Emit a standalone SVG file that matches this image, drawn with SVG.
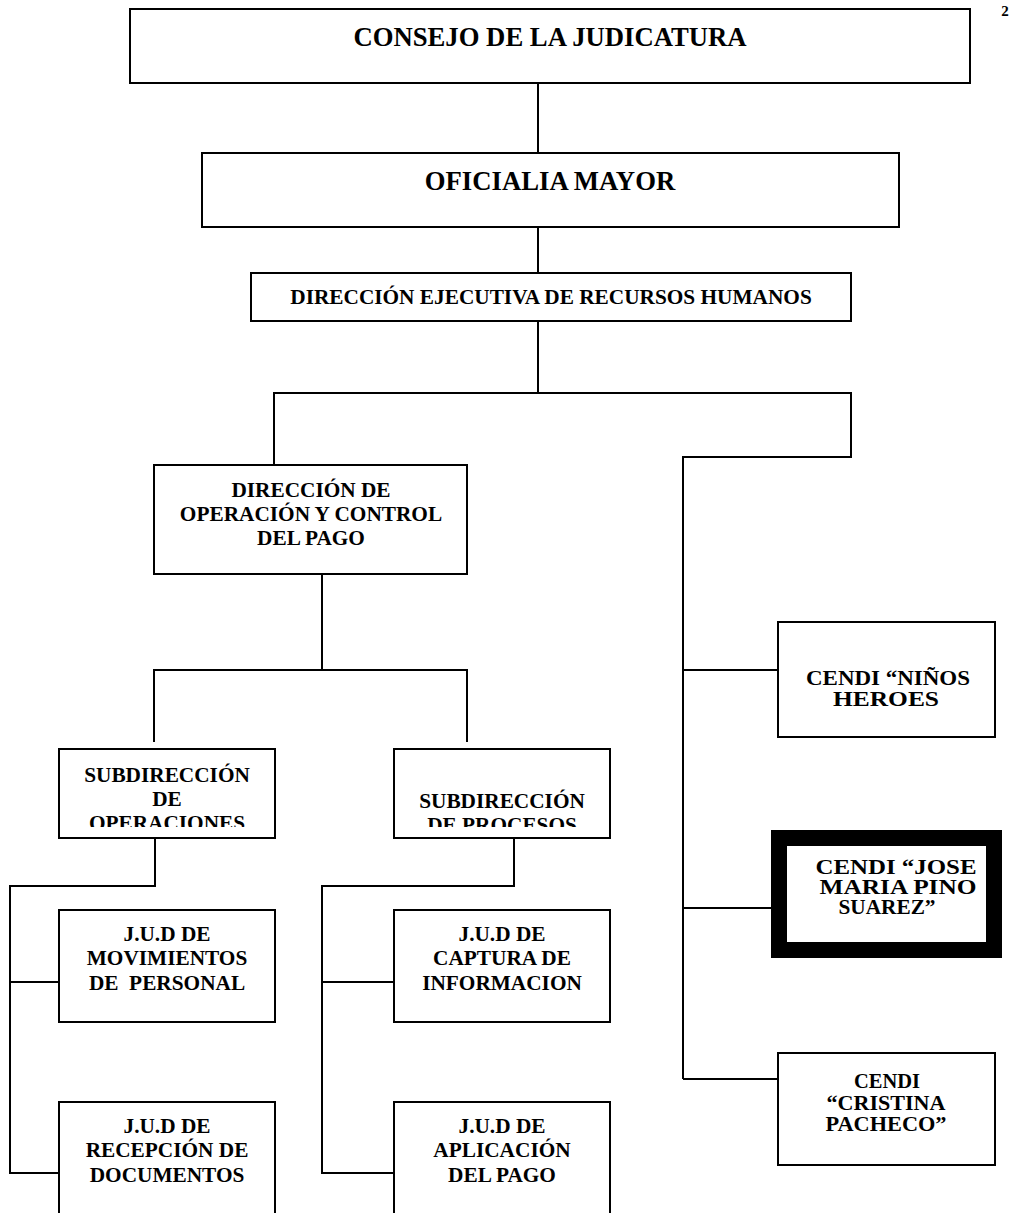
<svg xmlns="http://www.w3.org/2000/svg" width="1014" height="1213" viewBox="0 0 1014 1213">
<style>
.box{fill:#fff;stroke:#000;stroke-width:2}
.thick{fill:#fff;stroke:#000;stroke-width:16}
.conn{fill:none;stroke:#000;stroke-width:2}
.t{font-family:"Liberation Serif","Times New Roman",serif;font-weight:bold;text-anchor:middle;fill:#000}
.big{font-size:26.7px}
.mid{font-size:21.3px}
.sm{font-size:20px}
</style>
<defs>
<clipPath id="clipSubOp"><rect x="60" y="750" width="214" height="77"/></clipPath>
<clipPath id="clipSubPr"><rect x="395" y="750" width="214" height="77"/></clipPath>
</defs>
<rect width="1014" height="1213" fill="#fff"/>
<text class="t" x="1005" y="16" style="font-size:15px">2</text>

<g id="connectors">
<path class="conn" d="M538,83 V153"/>
<path class="conn" d="M538,227 V273"/>
<path class="conn" d="M538,321 V393"/>
<path class="conn" d="M274,465 V393 H851 V457 H683 V1079"/>
<path class="conn" d="M683,670 H778"/>
<path class="conn" d="M683,908 H771"/>
<path class="conn" d="M683,1079 H778"/>
<path class="conn" d="M322,574 V670"/>
<path class="conn" d="M154,742 V670 H467 V742"/>
<path class="conn" d="M155,838 V886 H10 V1173 H59"/>
<path class="conn" d="M10,982 H59"/>
<path class="conn" d="M514,838 V886 H322 V1173 H394"/>
<path class="conn" d="M322,982 H394"/>
</g>

<g id="consejo">
<rect class="box" x="130" y="9" width="840" height="74"/>
<text class="t big" x="550" y="46">CONSEJO DE LA JUDICATURA</text>
</g>
<g id="oficialia">
<rect class="box" x="202" y="153" width="697" height="74"/>
<text class="t big" x="550" y="190">OFICIALIA MAYOR</text>
</g>
<g id="dir-ejecutiva">
<rect class="box" x="251" y="273" width="600" height="48"/>
<text class="t mid" x="551" y="304">DIRECCIÓN EJECUTIVA DE RECURSOS HUMANOS</text>
</g>
<g id="dir-operacion">
<rect class="box" x="154" y="465" width="313" height="109"/>
<text class="t mid" x="311" y="497">DIRECCIÓN DE</text>
<text class="t mid" x="311" y="521">OPERACIÓN Y CONTROL</text>
<text class="t mid" x="311" y="545">DEL PAGO</text>
</g>
<g id="sub-operaciones">
<rect class="box" x="59" y="749" width="216" height="89"/>
<g clip-path="url(#clipSubOp)">
<text class="t mid" x="167" y="782">SUBDIRECCIÓN</text>
<text class="t mid" x="167" y="806">DE</text>
<text class="t mid" x="167" y="830">OPERACIONES</text>
</g>
</g>
<g id="sub-procesos">
<rect class="box" x="394" y="749" width="216" height="89"/>
<g clip-path="url(#clipSubPr)">
<text class="t mid" x="502" y="808">SUBDIRECCIÓN</text>
<text class="t mid" x="502" y="832">DE PROCESOS</text>
</g>
</g>
<g id="jud-movimientos">
<rect class="box" x="59" y="910" width="216" height="112"/>
<text class="t mid" x="167" y="941">J.U.D DE</text>
<text class="t mid" x="167" y="965">MOVIMIENTOS</text>
<text class="t mid" x="167" y="990" xml:space="preserve">DE  PERSONAL</text>
</g>
<g id="jud-recepcion">
<rect class="box" x="59" y="1102" width="216" height="120"/>
<text class="t mid" x="167" y="1133">J.U.D DE</text>
<text class="t mid" x="167" y="1157">RECEPCIÓN DE</text>
<text class="t mid" x="167" y="1182">DOCUMENTOS</text>
</g>
<g id="jud-captura">
<rect class="box" x="394" y="910" width="216" height="112"/>
<text class="t mid" x="502" y="941">J.U.D DE</text>
<text class="t mid" x="502" y="965">CAPTURA DE</text>
<text class="t mid" x="502" y="990">INFORMACION</text>
</g>
<g id="jud-aplicacion">
<rect class="box" x="394" y="1102" width="216" height="120"/>
<text class="t mid" x="502" y="1133">J.U.D DE</text>
<text class="t mid" x="502" y="1157">APLICACIÓN</text>
<text class="t mid" x="502" y="1182">DEL PAGO</text>
</g>
<g id="cendi-ninos">
<rect class="box" x="778" y="622" width="217" height="115"/>
<text class="t sm" x="888" y="685" textLength="164" lengthAdjust="spacingAndGlyphs">CENDI “NIÑOS</text>
<text class="t sm" x="886" y="706" textLength="106" lengthAdjust="spacingAndGlyphs">HEROES</text>
</g>
<g id="cendi-pino">
<rect class="thick" x="779" y="838" width="215" height="112"/>
<text class="t sm" x="896" y="874" textLength="161" lengthAdjust="spacingAndGlyphs">CENDI “JOSE</text>
<text class="t sm" x="898" y="894" textLength="157" lengthAdjust="spacingAndGlyphs">MARIA PINO</text>
<text class="t sm" x="887" y="914" textLength="97" lengthAdjust="spacingAndGlyphs">SUAREZ”</text>
</g>
<g id="cendi-cristina">
<rect class="box" x="778" y="1053" width="217" height="112"/>
<text class="t sm" x="887" y="1088" textLength="66" lengthAdjust="spacingAndGlyphs">CENDI</text>
<text class="t sm" x="886" y="1110" textLength="119" lengthAdjust="spacingAndGlyphs">“CRISTINA</text>
<text class="t sm" x="886" y="1131" textLength="121" lengthAdjust="spacingAndGlyphs">PACHECO”</text>
</g>
</svg>
